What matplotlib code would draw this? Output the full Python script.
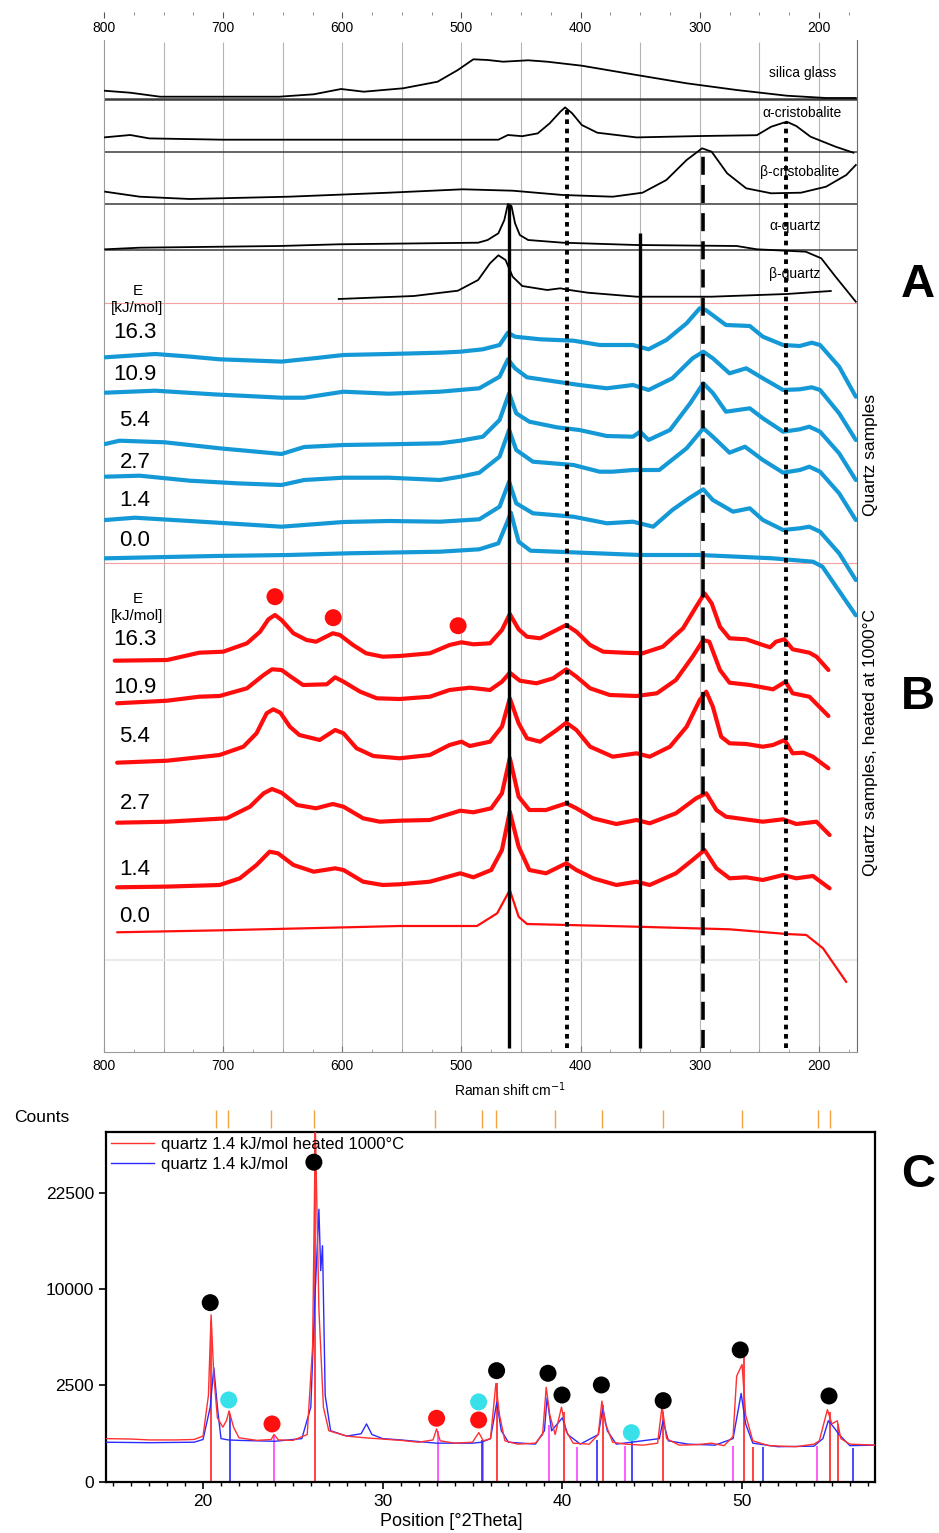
import numpy as np
import matplotlib
matplotlib.use('Agg')
import matplotlib.pyplot as plt
from matplotlib.ticker import MultipleLocator, FixedLocator
from matplotlib.transforms import blended_transform_factory

plt.rcParams['font.family'] = ['Liberation Sans', 'DejaVu Sans']

W, H = 939, 1533

# ---------------- Raman data: (shift cm-1, height above own baseline) ----------------
ref_names = ['silica glass', 'α-cristobalite', 'β-cristobalite', 'α-quartz', 'β-quartz']
silica = [(800, 8.6), (778, 6.6), (753, 2.6), (653, 2.6), (624, 5), (601, 10.3), (582, 7.6), (549, 11),
          (520, 17.6), (503, 29.3), (490, 40), (478, 39.3), (465, 37.6), (444, 39), (428, 37.6),
          (399, 33.6), (353, 24.3), (311, 16), (269, 9.3), (227, 3.6), (194, 1.3), (169, 1.3)]
a_crist = [(800, 14.3), (778, 16.7), (762, 13.3), (700, 12), (600, 12), (500, 12), (469, 12), (461, 16.7),
           (449, 15.5), (436, 18.3), (426, 28.3), (417, 40), (413, 44.3), (407, 38.3), (399, 26.7),
           (386, 19), (353, 14.3), (298, 15.7), (252, 16.5), (240, 25), (227, 30), (219, 25.7),
           (207, 15), (186, 5), (171, -1)]
b_crist = [(799, 12.3), (770, 7.3), (728, 5), (645, 7.3), (561, 11.3), (499, 14.7), (457, 13.3), (415, 9),
           (373, 7.3), (348, 11.3), (328, 24), (311, 44), (298, 55.7), (290, 52.3), (277, 30.7),
           (261, 15.7), (240, 10.7), (215, 11.3), (194, 17.3), (177, 29), (169, 39)]
a_qz = [(799, 0.7), (770, 2.3), (653, 4), (603, 5.7), (486, 7.3), (478, 10), (469, 16.7), (464, 30),
        (461, 46), (458, 44), (455, 26.7), (451, 15), (444, 10), (415, 7.3), (353, 5), (269, 4),
        (252, 0.7), (211, -1.7), (198, -8.3), (186, -26.7), (169, -51.7)]
b_qz = [(603, 3.7), (540, 6.7), (503, 12), (486, 22.7), (476, 39.4), (469, 47.4), (463, 42.7), (457, 26),
        (449, 16.7), (428, 12.7), (417, 14.4), (411, 13), (394, 10), (353, 6), (290, 6), (227, 8.7),
        (190, 11.7)]
ref_spectra = [silica, a_crist, b_crist, a_qz, b_qz]

energies = ['16.3', '10.9', '5.4', '2.7', '1.4', '0.0']

blue_163 = [(799, 0), (757, 3.3), (728, 0.7), (703, -2), (651, -4.3), (624, -1), (599, 2.3), (561, 3.3),
            (518, 4.6), (501, 5.6), (482, 8), (468, 12.3), (461, 24.6), (455, 20.6), (434, 18),
            (406, 16.6), (384, 12.3), (356, 12.3), (343, 8), (328, 17.3), (311, 34), (300, 49),
            (295, 47.3), (278, 32.3), (258, 31.3), (247, 20.6), (230, 12.3), (216, 11.3), (206, 14.6),
            (199, 12.3), (183, -9.4), (169, -39.4)]
blue_109 = [(799, 0), (757, 2), (707, -1.7), (651, -5), (632, -5), (599, 1), (561, -1), (518, 1),
            (485, 4.4), (468, 16), (461, 33.4), (455, 24.4), (445, 15.4), (420, 11), (401, 7.7),
            (378, 4.4), (356, 7.7), (343, 2.7), (323, 14.4), (306, 34.4), (297, 41), (289, 34.4),
            (275, 19.4), (261, 24.4), (247, 14.4), (230, 2.7), (216, 3.4), (206, 5.4), (199, 2.7),
            (183, -20.6), (169, -47.3)]
blue_54 = [(799, 0), (787, 3.3), (749, 1.7), (703, -4.3), (651, -10), (632, -3), (599, -1), (561, -0.3),
           (518, 0.7), (501, 3.3), (482, 7.3), (468, 24), (460, 50.7), (454, 30.7), (443, 22.3),
           (420, 16.7), (401, 14), (378, 8), (356, 7.3), (350, 12.3), (343, 4), (325, 14), (308, 40.7),
           (297, 60.7), (289, 51), (278, 32.3), (258, 35.7), (247, 25.7), (230, 12.3), (216, 14.7),
           (208, 17.3), (199, 12.3), (183, -9.3), (169, -36)]
blue_27 = [(799, 0), (770, 1), (728, -4), (687, -6.7), (651, -8.3), (632, -3.3), (599, -1), (561, -1),
           (518, -3.3), (501, 0), (485, 4), (468, 20), (460, 46.7), (454, 26.7), (440, 15), (406, 11.7),
           (384, 5), (373, 5), (356, 6.7), (334, 6.7), (311, 28.4), (297, 48.4), (289, 40), (275, 24),
           (262, 30), (247, 16.7), (230, 4), (216, 6.7), (208, 10), (199, 5), (183, -16.6), (169, -43.3)]
blue_14 = [(799, 0), (774, 2.3), (728, -1), (687, -4), (651, -6.7), (599, -2), (561, -1), (518, -1.7),
           (485, 0.7), (468, 13.3), (460, 38.3), (454, 16.7), (440, 6.7), (406, 3.3), (378, -3.3),
           (356, -1.7), (339, -6.7), (323, 10), (309, 21.7), (297, 30.7), (289, 20), (272, 8.3),
           (258, 11.7), (247, 0), (230, -10), (216, -8.3), (208, -6.7), (199, -11.7), (183, -33.3),
           (169, -60)]
blue_00 = [(799, 0), (707, 2.3), (645, 3.3), (595, 5), (518, 6.6), (485, 9), (469, 15), (462, 35),
           (458.5, 45.6), (452, 16.6), (442, 7.6), (350, 3.3), (300, 3.3), (239, 0), (205, -3.4),
           (197, -8.4), (169, -57)]
blue_spectra = [blue_163, blue_109, blue_54, blue_27, blue_14, blue_00]

red_163 = [(791, 0), (747, 0.7), (720, 8), (700, 9), (680, 17.4), (669, 29), (662, 41.4), (656.5, 45.7),
           (651, 40.7), (641, 27.4), (630, 20.7), (622, 19), (608, 27.4), (602, 25.7), (591, 15.7),
           (580, 7.4), (566, 4), (552, 4.7), (526.5, 7.4), (510, 15.7), (500, 18.4), (490, 16.4),
           (476, 17.4), (466, 30.7), (459.4, 46.7), (452, 31.4), (445, 24), (434, 22.4), (423, 29),
           (412, 35.7), (403.5, 29), (392, 15.7), (381, 9), (364, 8), (348, 7.4), (331, 14), (314, 32.4),
           (303, 54), (296, 67.4), (290, 57.4), (283, 34), (275, 22.4), (261, 21.4), (247, 15.7),
           (241, 13.4), (236, 19), (229, 21.4), (222, 11.4), (208, 8), (202, 4), (192, -9.3)]
red_109 = [(789, 0), (747, 2.6), (720, 6.6), (703, 7.3), (680, 15), (666, 28.3), (659, 34), (651, 33.3),
           (644, 27.3), (633, 18.3), (613, 19), (606, 26), (599, 21.6), (585, 11.6), (571, 5), (552, 4.3),
           (526.5, 6.6), (510, 13.3), (493, 15.6), (476, 13.3), (466, 21.6), (459.4, 30.6), (451, 22.6),
           (437, 20), (423, 25), (412, 34), (403.5, 26.6), (392, 15), (375.5, 8.3), (353, 7.3), (336, 10),
           (320, 23.3), (306, 46.6), (297, 63.3), (292, 61.6), (283, 33.3), (275, 20.6), (258, 18.3),
           (238.5, 14), (228, 21.6), (222, 10), (208, 6.6), (192, -12.7)]
red_54 = [(789, 0), (747, 2), (703, 7.7), (683, 16), (672, 29.4), (663.5, 49.4), (658, 53.4), (652, 50),
          (644, 36), (636, 27.7), (619, 22.7), (606, 32.7), (599, 29.4), (588, 14.4), (574, 6.7),
          (552, 4.4), (526.5, 7.7), (510, 17.7), (500, 21), (493, 16.7), (476, 21), (466, 36),
          (459.4, 64.4), (452, 39.4), (445, 24.4), (434, 21), (420, 32.7), (412, 40), (403.5, 32.7),
          (392, 16), (373, 6), (353, 9.4), (342, 6), (325, 16), (311, 36), (300, 62.7), (294.5, 71),
          (289, 56), (282, 26), (275, 19.4), (261, 18.7), (247, 16), (238.5, 17.7), (228.7, 22.7),
          (222, 9.4), (213, 10), (205, 6), (192, -5.6)]
red_27 = [(789, 0), (747, 1), (697, 4.4), (677.5, 16), (666, 29.4), (659, 33.7), (651, 30), (638, 17.7),
          (622, 14.4), (608, 18.7), (599, 16), (582.5, 4.4), (568.5, 1), (552, 2), (526.5, 2.7), (501, 12),
          (490, 10.4), (475, 14.4), (466, 29.4), (459.4, 64.7), (452, 26), (443, 12.7), (429, 12.7),
          (412, 19.4), (403.5, 14.4), (389.5, 4.4), (370, -1.3), (353, 2.7), (342, -0.6), (320, 9.4),
          (303, 24.4), (294.5, 29.4), (286, 12.7), (278, 6), (247, 1), (230, 3.4), (219, -1.3), (202, 1),
          (191, -12.3)]
red_14 = [(789, 0), (747, 0.7), (703, 2.3), (686, 9), (672, 22.3), (661, 35.6), (654, 34), (641, 22.3),
          (624, 15.6), (606, 19), (599, 17.3), (582.5, 5.6), (566, 2.3), (552, 3), (526.5, 5.6), (501, 14),
          (490, 10), (475, 17.3), (466, 37.3), (459.4, 75.6), (452, 40.6), (443, 17.3), (429, 14),
          (412, 24), (403.5, 17.3), (389.5, 9), (370, 2.3), (353, 5.6), (342, 2.3), (320, 14),
          (306, 27.3), (296, 37.3), (286, 19), (275, 9), (261, 10), (247, 7.3), (230, 12.3), (219, 9),
          (205, 11.3), (191, -1)]
red_00 = [(789, 0), (702, 2), (596, 5), (552, 6.3), (526.5, 6.3), (487, 6.3), (470, 19), (459.4, 42.3),
          (452, 15.6), (445, 8.3), (353, 5.6), (275, 3), (227, -1.7), (210.5, -2.7), (196.5, -16),
          (177, -49.7)]
red_spectra = [red_163, red_109, red_54, red_27, red_14, red_00]

# new phase peaks marked above the 16.3 kJ/mol heated spectrum
red_dot_shift = [656.5, 607.6, 502.8]
red_dot_height = [64, 43, 35]

# reference band lines: position, style, reference spectrum index
band_pos = [460, 411, 350, 297, 228]
band_style = ['solid', 'dotted', 'solid', 'dashed', 'dotted']
band_ref = [3, 1, 3, 2, 1]

# ---------------- XRD data ----------------
xrd_heated = [(14.6, 500), (16, 490), (17, 470), (18.5, 470), (19.5, 480), (20.0, 560), (20.3, 2000),
              (20.45, 7500), (20.6, 3000), (20.8, 1100), (21.1, 800), (21.3, 1000), (21.45, 1350),
              (21.7, 800), (22.0, 520), (23, 460), (23.8, 480), (23.95, 600), (24.2, 470), (25, 460),
              (25.8, 600), (26.1, 5000), (26.25, 34000), (26.45, 8000), (26.7, 1500), (27, 700),
              (28, 560), (29, 520), (30, 490), (31, 460), (32, 420), (32.8, 470), (33.0, 750),
              (33.2, 450), (34, 400), (35, 420), (35.35, 650), (35.6, 450), (36.0, 500), (36.3, 2600),
              (36.5, 1200), (36.8, 450), (37.5, 380), (38.5, 400), (38.9, 600), (39.1, 2400),
              (39.3, 1200), (39.6, 600), (39.95, 1500), (40.2, 700), (40.6, 400), (41.5, 380),
              (42.0, 600), (42.2, 1750), (42.4, 900), (42.8, 420), (43.5, 380), (44.5, 360), (45.3, 400),
              (45.55, 1550), (45.8, 500), (46.5, 360), (47.5, 370), (48.3, 400), (49.0, 350),
              (49.5, 550), (49.7, 3000), (50.0, 3700), (50.2, 1200), (50.6, 450), (51.5, 350),
              (53, 330), (54.0, 380), (54.3, 450), (54.75, 1400), (55.0, 900), (55.3, 1000),
              (55.5, 500), (56, 380), (57.4, 360)]
xrd_raw = [(14.6, 420), (17, 410), (19.5, 420), (20.0, 480), (20.4, 1500), (20.6, 3500), (20.8, 1500),
           (21.0, 500), (21.4, 470), (22, 460), (24, 440), (25.5, 500), (26.0, 1500), (26.2, 8000),
           (26.45, 20000), (26.55, 12000), (26.65, 15000), (26.8, 2000), (27.1, 700), (28, 560),
           (28.8, 620), (29.1, 900), (29.4, 600), (30, 500), (31, 470), (33, 400), (35, 400),
           (35.5, 420), (36.0, 500), (36.35, 1700), (36.6, 700), (37, 420), (38.5, 380), (39.0, 700),
           (39.15, 1900), (39.4, 700), (40.0, 1100), (40.3, 600), (41, 380), (42.0, 600),
           (42.25, 1450), (42.5, 700), (43, 380), (45.4, 500), (45.6, 1000), (45.9, 450), (47, 380),
           (48.5, 360), (49.5, 500), (49.95, 2100), (50.2, 900), (50.6, 400), (52, 330), (54, 340),
           (54.5, 500), (54.8, 1000), (55.1, 800), (55.4, 600), (56, 350), (57.4, 360)]

sticks_red = [(20.42, 7000), (26.25, 33000), (36.35, 2600), (40.08, 1300), (42.24, 1600), (45.6, 1300),
              (50.1, 4400), (50.6, 330), (54.9, 1300), (55.35, 900)]
sticks_blue = [(21.5, 1250), (35.5, 470), (41.94, 470), (43.9, 520), (51.18, 330), (56.2, 310)]
sticks_magenta = [(23.94, 590), (33.1, 680), (35.6, 450), (39.27, 870), (40.84, 330), (43.5, 340),
                  (49.5, 350), (54.18, 350)]
orange_ref = [20.7, 21.4, 23.8, 26.2, 32.9, 35.5, 36.3, 39.6, 42.2, 45.6, 50.0, 54.2, 54.9]

dots_quartz = [(20.4, 8636), (26.17, 27500), (36.34, 3322), (39.2, 3166), (39.98, 2025), (42.17, 2522),
               (45.61, 1770), (49.9, 4678), (54.84, 1980)]
dots_cyan = [(21.43, 1800), (35.34, 1714), (43.84, 647)]
dots_red = [(23.84, 898), (33.0, 1084), (35.34, 1026)]


def box(x0, y0, x1, y1):
    return [x0 / W, 1 - y1 / H, (x1 - x0) / W, (y1 - y0) / H]


def unzip(pts):
    return np.array([p[0] for p in pts]), np.array([p[1] for p in pts])


fig = plt.figure(figsize=(W / 100, H / 100), dpi=100)

# ================= Raman panel (A + B) =================
ax = fig.add_axes(box(104, 40, 857, 1052))
ax.set_xlim(800, 168)
ax.set_ylim(1052, 40)   # rows counted from the top

ax.vlines(np.arange(750, 199, -50), 1052, 42, color='#b5b5b5', lw=0.8, zorder=0)

# baselines of the stacked spectra (layout rows)
ref_base = [99.3, 151.7, 204, 250, 302.7]
blue_base = [357.3, 392.7, 444, 476.7, 520, 558.3]
red_base = [660.7, 703.3, 762.7, 822.7, 887.3, 932.3]

for i in range(4):
    ax.axhline(ref_base[i], color='#3a3a3a', lw=1.1 if i else 1.8, zorder=1)
ax.axhline(ref_base[4], color='#f2a0a0', lw=0.8, zorder=1)
ax.axhline(563, color='#f2a0a0', lw=0.8, zorder=1)
ax.axhline(960, color='#e6e6e6', lw=1.2, zorder=1)

for pts, base in zip(ref_spectra, ref_base):
    x, h = unzip(pts)
    ax.plot(x, base - h, color='black', lw=1.3, zorder=3)

label_shift = [214, 214, 216, 220, 220]
label_row = [73, 113, 172, 226, 274]
for name, xs, row in zip(ref_names, label_shift, label_row):
    ax.text(xs, row, name, ha='center', va='center', fontsize=10, zorder=4)

for pts, base in zip(blue_spectra, blue_base):
    x, h = unzip(pts)
    ax.plot(x, base - h, color='#1499d6', lw=3.0, solid_joinstyle='round', solid_capstyle='round', zorder=3)

for k, (pts, base) in enumerate(zip(red_spectra, red_base)):
    x, h = unzip(pts)
    ax.plot(x, base - h, color='#ff0d0d', lw=1.6 if k == 5 else 3.0,
            solid_joinstyle='round', solid_capstyle='round', zorder=3)

ax.scatter(red_dot_shift, red_base[0] - np.array(red_dot_height), s=150, color='#ff0d0d', zorder=5,
           edgecolors='none')

# energy labels
for grp_rows, e_row in [([333, 375, 420, 462, 500, 541], 291), ([640, 688, 737, 804, 870, 917], 599)]:
    ax.text(772, e_row, 'E', ha='center', va='center', fontsize=11)
    ax.text(772, e_row + 17, '[kJ/mol]', ha='center', va='center', fontsize=11)
    for lab, row in zip(energies, grp_rows):
        ax.text(774, row, lab, ha='center', va='center', fontsize=16)

# band marker lines, starting at the reference peak
ref_curves = [unzip(p) for p in ref_spectra]
for pos, style, ri in zip(band_pos, band_style, band_ref):
    xr, hr = ref_curves[ri]
    top = ref_base[ri] - np.interp(pos, xr[::-1], hr[::-1])
    if pos == 350:
        top -= 12
    if style == 'solid':
        ls, lw = '-', 2.4
    elif style == 'dotted':
        ls, lw = (0, (1.2, 1.2)), 2.8
    else:
        ls, lw = (0, (5, 2.8)), 2.6
    ax.vlines(pos, 1048, top, colors='black', linestyles=ls, lw=lw, zorder=4)

ax.spines['top'].set_visible(False)
ax.spines['left'].set_color('#9a9a9a')
ax.spines['right'].set_color('#6a6a6a')
ax.spines['bottom'].set_color('#9a9a9a')
ax.yaxis.set_visible(False)
ax.xaxis.set_major_locator(FixedLocator([800, 700, 600, 500, 400, 300, 200]))
ax.xaxis.set_minor_locator(MultipleLocator(25))
ax.tick_params(axis='x', which='major', direction='in', length=4, labelsize=10, color='#777', pad=5)
ax.tick_params(axis='x', which='minor', direction='in', length=2, color='#999')
ax.set_xlabel('Raman shift cm$^{-1}$', fontsize=10)
ax.xaxis.set_label_coords((510 - 104) / 753, -0.028)

# top scale
axt = fig.add_axes(box(104, 11, 857, 11.5))
axt.set_xlim(800, 168)
axt.yaxis.set_visible(False)
for s in axt.spines.values():
    s.set_visible(False)
axt.xaxis.set_major_locator(FixedLocator([800, 700, 600, 500, 400, 300, 200]))
axt.xaxis.set_minor_locator(MultipleLocator(25))
axt.tick_params(axis='x', which='major', direction='out', length=4, labelsize=10, color='#555', pad=3)
axt.tick_params(axis='x', which='minor', direction='out', length=2.5, color='#777')

fig.text(870 / W, 1 - 455 / H, 'Quartz samples', rotation=90, ha='center', va='center', fontsize=12.5)
fig.text(870 / W, 1 - 742 / H, 'Quartz samples, heated at 1000°C', rotation=90, ha='center',
         va='center', fontsize=12.5)
fig.text(918 / W, 1 - 285 / H, 'A', fontsize=34, fontweight='bold', ha='center', va='center')
fig.text(918 / W, 1 - 697 / H, 'B', fontsize=34, fontweight='bold', ha='center', va='center')

# ================= XRD panel (C) =================
ax2 = fig.add_axes(box(106, 1131.7, 875, 1481.7))
ax2.set_yscale('function', functions=(lambda v: np.sqrt(np.clip(v, 0, None)), lambda v: np.square(v)))
ax2.set_xlim(14.6, 57.4)
ax2.set_ylim(0, 33000)

x, y = unzip(sticks_magenta)
ax2.vlines(x, 0, y, color='#ff40ff', lw=1.2, zorder=2)
x, y = unzip(sticks_blue)
ax2.vlines(x, 0, y, color='#2a2aff', lw=1.2, zorder=2)
x, y = unzip(sticks_red)
ax2.vlines(x, 0, y, color='#ff2020', lw=1.2, zorder=2)

x, y = unzip(xrd_raw)
ax2.plot(x, y, color='#2b2bff', lw=1.0, zorder=3, label='quartz 1.4 kJ/mol')
x, y = unzip(xrd_heated)
ax2.plot(x, y, color='#ff3030', lw=1.0, zorder=4, label='quartz 1.4 kJ/mol heated 1000°C')

for pts, col in [(dots_quartz, 'black'), (dots_cyan, '#38e0ea'), (dots_red, '#ff1010')]:
    x, y = unzip(pts)
    ax2.scatter(x, y, s=150, color=col, zorder=6, edgecolors='none', clip_on=False)

trans = blended_transform_factory(ax2.transData, ax2.transAxes)
ax2.vlines(orange_ref, 1.011, 1.062, transform=trans, color='#f5a040', lw=1.0, clip_on=False)

handles, labels = ax2.get_legend_handles_labels()
ax2.legend(handles[::-1], labels[::-1], loc='upper left', frameon=False, fontsize=12,
           handlelength=2.6, borderaxespad=0.1, labelspacing=0.3, handletextpad=0.4, borderpad=0.2)

ax2.set_yticks([0, 2500, 10000, 22500])
ax2.xaxis.set_major_locator(FixedLocator([20, 30, 40, 50]))
ax2.xaxis.set_minor_locator(MultipleLocator(1))
ax2.tick_params(axis='both', which='major', direction='out', length=5, width=1.2, labelsize=12.5)
ax2.tick_params(axis='x', which='minor', direction='out', length=3, width=1)
ax2.yaxis.set_minor_locator(FixedLocator([]))
for s in ax2.spines.values():
    s.set_linewidth(1.6)
ax2.set_xlabel('Position [°2Theta]', fontsize=13)
ax2.xaxis.set_label_coords((451 - 106) / 769, -0.088)

fig.text(42 / W, 1 - 1118 / H, 'Counts', ha='center', va='center', fontsize=12.5)
fig.text(918 / W, 1 - 1175 / H, 'C', fontsize=34, fontweight='bold', ha='center', va='center')

fig.savefig('out.png', dpi=100)
